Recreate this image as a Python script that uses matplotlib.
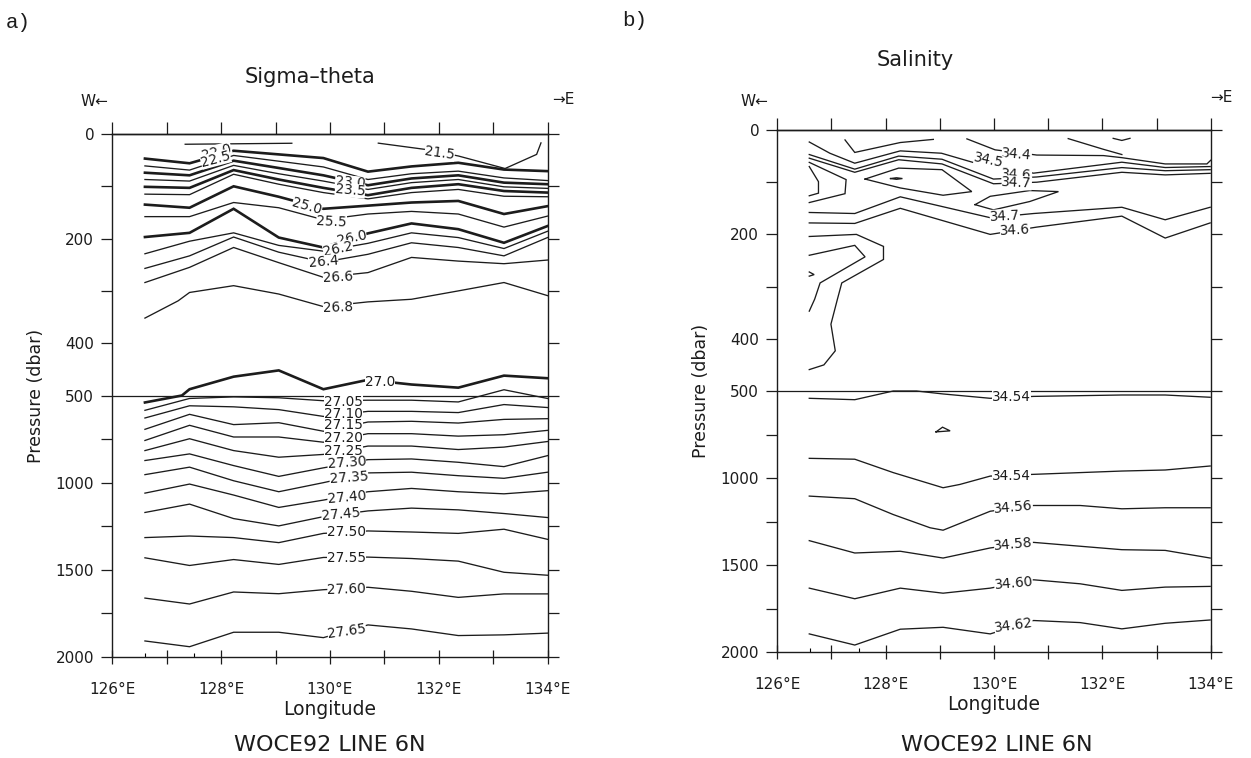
import numpy as np
import matplotlib
matplotlib.use("Agg")
import matplotlib.pyplot as plt

# ---------------- data ----------------
LON = [126.6, 127.42, 128.23, 129.06, 129.88, 130.7, 131.5, 132.36, 133.2, 134.0]
XTICKS = [126, 127, 128, 129, 130, 131, 132, 133, 134]
XTICKLABELS = ["126°E", "", "128°E", "", "130°E", "", "132°E", "", "134°E"]
STATION_MARKS = [126.6, 127.5]
YTICKS = [0, 100, 200, 300, 400, 500, 750, 1000, 1250, 1500, 1750, 2000]
YTICKLABELS = ["0", "", "200", "", "400", "500", "", "1000", "", "1500", "", "2000"]

# Sigma-theta (pressure in dbar at each station longitude)
SIG_215_LON = [130.89, 131.79, 132.36, 133.22, 133.80, 133.88]
SIG_215 = [17.5, 30, 42, 66, 39, 17]
SIG_TOP_LON = [127.34, 129.30]
SIG_TOP = [19.6, 17.7]
SIG_220 = [47, 56, 32, 39, 46, 72, 62, 55, 68, 71]
SIG_225 = [61, 69, 41, 52, 63, 87, 76, 71, 84, 89]
SIG_230 = [74, 79, 51, 65, 79, 98, 85, 79, 93, 96]
SIG_235 = [87, 90, 60, 76, 90, 106, 93, 87, 101, 104]
SIG_240 = [101, 103, 69, 87, 103, 117, 103, 96, 109, 112]
SIG_245 = [115, 116, 77, 96, 112, 124, 112, 106, 119, 120]
SIG_250 = [135, 141, 100, 120, 143, 137, 131, 128, 153, 138]
SIG_255 = [158, 158, 131, 141, 164, 153, 148, 153, 178, 157]
SIG_260 = [197, 189, 143, 198, 217, 190, 171, 182, 208, 176]
SIG_262 = [229, 205, 189, 213, 224, 209, 189, 198, 219, 186]
SIG_264 = [257, 233, 197, 226, 245, 230, 208, 217, 233, 198]
SIG_266 = [284, 255, 217, 246, 274, 265, 236, 243, 248, 241]
SIG_268_LON = [126.6, 127.21, 127.42, 128.23, 129.06, 129.88, 130.7, 131.5, 132.36, 133.2, 134.0]
SIG_268 = [352, 319, 303, 290, 306, 330, 321, 316, 300, 284, 309]
SIG_270_LON = [126.6, 127.28, 127.42, 128.23, 129.06, 129.88, 130.7, 131.5, 132.36, 133.2, 134.0]
SIG_270 = [540, 500, 488, 464, 452, 488, 470, 479, 485, 462, 467]
SIG_2705 = [585, 517, 508, 513, 530, 527, 527, 537, 489, 517]
SIG_2710 = [629, 559, 565, 581, 620, 591, 591, 598, 552, 569]
SIG_2715 = [694, 608, 667, 656, 705, 652, 648, 658, 637, 633]
SIG_2720 = [758, 671, 738, 738, 768, 719, 719, 733, 725, 700]
SIG_2725 = [816, 748, 816, 854, 838, 790, 790, 810, 796, 764]
SIG_2730 = [873, 835, 902, 964, 915, 868, 864, 883, 908, 845]
SIG_2735 = [954, 911, 989, 1052, 1000, 944, 940, 960, 975, 940]
SIG_2740 = [1060, 1008, 1071, 1142, 1100, 1052, 1033, 1052, 1064, 1046]
SIG_2745 = [1171, 1123, 1206, 1248, 1195, 1162, 1146, 1156, 1177, 1200]
SIG_2750 = [1315, 1306, 1315, 1344, 1291, 1277, 1283, 1291, 1267, 1325]
SIG_2755 = [1431, 1475, 1441, 1469, 1429, 1427, 1435, 1450, 1514, 1531]
SIG_2760 = [1662, 1696, 1627, 1637, 1614, 1600, 1623, 1658, 1638, 1638]
SIG_2765 = [1908, 1941, 1858, 1858, 1889, 1816, 1839, 1877, 1873, 1863]

SIG_LABELS = ["21.5", "22.0", "22.5", "23.0", "23.5", "25.0", "25.5", "26.0", "26.2",
              "26.4", "26.6", "26.8", "27.0", "27.05", "27.10", "27.15", "27.20",
              "27.25", "27.30", "27.35", "27.40", "27.45", "27.50", "27.55",
              "27.60", "27.65"]
SIG_LABEL_LON = [132.02, 127.92, 127.90, 130.37, 130.37, 129.58, 130.03, 130.40, 130.15,
                 129.88, 130.15, 130.15, 130.92, 130.25, 130.25, 130.25, 130.25,
                 130.25, 130.31, 130.35, 130.31, 130.20, 130.31, 130.31, 130.31, 130.31]
SIG_LABEL_P = [36, 34, 48, 93, 108, 139, 167, 198, 220, 245, 274, 331, 475, 536, 604,
               671, 744, 816, 887, 973, 1085, 1181, 1281, 1431, 1610, 1850]
SIG_LABEL_ROT = [-8, 15, 15, -5, -5, -16, -3, 12, 12, 5, 3, 2, 0, 0, 0, 0, 0, 0, 4,
                 4, 5, 5, 0, 0, 2, 8]

# Salinity
SAL_344_LON = [129.50, 130.02, 130.79, 132.02, 132.36, 133.16, 133.93, 134.0]
SAL_344 = [17, 38, 48, 49, 53, 65, 65, 58]
SAL_TOPR_LON = [131.37, 132.02, 132.36]
SAL_TOPR = [16.5, 37, 47]
SAL_V_LON = [132.2, 132.36, 132.51]
SAL_V = [16, 20, 16]
SAL_TOPL_LON = [127.25, 127.43, 128.27, 128.88]
SAL_TOPL = [19, 43, 24, 18]
SAL_345_LON = [126.59, 126.97, 127.43, 128.27, 129.03, 129.62, 130.73, 132.36, 133.16, 133.99]
SAL_345 = [23, 44.5, 63.6, 40, 44.5, 62.3, 82.7, 61.7, 71.9, 70.0]
SAL_346_LON = [126.59, 127.43, 128.24, 129.04, 129.99, 130.79, 132.36, 133.16, 133.99]
SAL_346 = [47, 75, 50, 56, 94, 90, 72, 78, 76]
SAL_347_LON = [126.59, 127.43, 128.24, 129.04, 129.99, 130.79, 132.36, 133.16, 133.99]
SAL_347 = [54, 81, 57, 65, 103, 100, 81, 86, 83]
SAL_U_LON = [126.59, 127.27, 127.25, 126.59]
SAL_U = [62, 95, 122, 139]
SAL_BR_LON = [126.59, 126.76, 126.76, 126.59]
SAL_BR = [70, 99, 121, 126]
SAL_LENS1_LON = [127.62, 128.24, 129.04, 129.59, 129.06, 128.27, 127.62]
SAL_LENS1 = [94, 73, 76, 118, 125, 111, 94]
SAL_DASH_LON = [128.09, 128.20, 128.31, 128.20, 128.09]
SAL_DASH = [93, 91.5, 93, 94.5, 93]
SAL_LENS2_LON = [129.65, 129.93, 130.66, 131.19, 130.66, 129.99, 129.65]
SAL_LENS2 = [143, 127, 116, 118, 137, 153, 143]
SAL_347B_LON = [126.59, 127.43, 128.27, 129.93, 130.73, 132.36, 133.16, 133.99]
SAL_347B = [158, 160, 128, 168, 160, 148, 172, 148]
SAL_346B_LON = [126.59, 127.43, 128.27, 129.93, 130.79, 132.36, 133.16, 133.99]
SAL_346B = [178, 179, 150, 200, 186, 165, 207, 178]
SAL_IN_LON = [126.59, 127.43, 127.62, 126.79, 126.69, 126.59]
SAL_IN = [240, 221, 243, 293, 324, 347]
SAL_ARR_LON = [126.59, 126.68, 126.59]
SAL_ARR = [272, 277, 280]
SAL_OUT_LON = [126.59, 127.46, 127.96, 127.96, 127.19, 127.11, 126.99, 127.07, 126.86, 126.59]
SAL_OUT = [204, 200, 223, 248, 293, 324, 372, 423, 450, 459]
SAL_3454A_LON = [126.59, 127.43, 128.14, 128.57, 129.06, 129.93, 130.73, 132.36, 133.16, 133.99]
SAL_3454A = [542, 550, 500, 500, 517, 542, 531, 523, 523, 536]
SAL_TRI_LON = [128.93, 129.05, 129.19, 128.93]
SAL_TRI = [735, 708, 729, 735]
SAL_3454B_LON = [126.59, 127.43, 128.14, 129.06, 129.37, 129.93, 130.73, 132.36, 133.16, 133.99]
SAL_3454B = [887, 892, 969, 1056, 1037, 989, 979, 960, 954, 931]
SAL_3456_LON = [126.59, 127.43, 128.14, 128.82, 129.06, 129.93, 130.73, 131.59, 132.36, 133.16, 133.99]
SAL_3456 = [1104, 1119, 1210, 1286, 1300, 1191, 1158, 1158, 1177, 1171, 1171]
SAL_3458_LON = [126.59, 127.43, 128.27, 129.06, 129.93, 130.73, 132.36, 133.16, 133.99]
SAL_3458 = [1360, 1431, 1421, 1460, 1402, 1370, 1412, 1416, 1460]
SAL_3460_LON = [126.59, 127.43, 128.27, 129.06, 129.93, 130.73, 131.59, 132.36, 133.16, 133.99]
SAL_3460 = [1633, 1694, 1633, 1662, 1633, 1585, 1608, 1646, 1627, 1623]
SAL_3462_LON = [126.59, 127.43, 128.27, 129.06, 129.93, 130.73, 131.59, 132.36, 133.16, 133.99]
SAL_3462 = [1896, 1960, 1869, 1858, 1896, 1819, 1831, 1867, 1835, 1816]

SAL_LABELS = ["34.4", "34.5", "34.6", "34.7", "34.7", "34.6", "34.54", "34.54",
              "34.56", "34.58", "34.60", "34.62"]
SAL_LABEL_LON = [130.42, 129.91, 130.42, 130.42, 130.20, 130.39, 130.33, 130.33,
                 130.36, 130.36, 130.36, 130.36]
SAL_LABEL_P = [46, 58, 86, 101, 165, 192, 536, 989, 1171, 1383, 1604, 1844]
SAL_LABEL_ROT = [-5, -12, -3, -3, 3, 3, 0, 0, 5, 5, 5, 8]

# ---------------- helpers ----------------
INK = "#1c1c1c"


def fwd(p):
    p = np.asarray(p, dtype=float)
    return np.where(p <= 500, p, 500 + (p - 500) / 3.0)


def inv(t):
    t = np.asarray(t, dtype=float)
    return np.where(t <= 500, t, 500 + (t - 500) * 3.0)


def setup(ax):
    ax.set_yscale("function", functions=(fwd, inv))
    ax.set_xlim(126, 134)
    ax.set_ylim(2000, 0)
    ax.set_yticks(YTICKS)
    ax.set_yticklabels(YTICKLABELS)
    ax.set_xticks(XTICKS)
    ax.set_xticklabels(XTICKLABELS)
    ax.set_xticks(STATION_MARKS, minor=True)
    ax.tick_params(axis="y", which="major", direction="out", length=8, width=0.9,
                   left=True, right=True, labelsize=11, pad=5, colors=INK)
    ax.tick_params(axis="y", which="minor", left=False, right=False)
    ax.tick_params(axis="x", which="major", direction="inout", length=10, width=0.9,
                   bottom=True, top=False, labelsize=11, pad=13, colors=INK)
    ax.tick_params(axis="x", which="minor", direction="in", length=3, width=0.8,
                   bottom=True, top=False)
    for s in ax.spines.values():
        s.set_linewidth(1.0)
        s.set_color(INK)
    sec = ax.secondary_xaxis("top")
    sec.set_xticks(XTICKS)
    sec.set_xticklabels([])
    sec.tick_params(direction="out", length=9, width=0.9, colors=INK)
    sec.spines["top"].set_linewidth(1.0)
    ax.axhline(500, color=INK, lw=0.9, zorder=2)
    ax.set_xlabel("Longitude", fontsize=13.5, color=INK, labelpad=2)
    ax.set_ylabel("Pressure (dbar)", fontsize=12.5, color=INK, labelpad=8)


def line(ax, lon, p, bold=False):
    ax.plot(lon, p, color=INK, lw=1.9 if bold else 0.95, zorder=3,
            solid_joinstyle="miter")


def labels(ax, lons, ps, texts, rots):
    for lo, p, t, r in zip(lons, ps, texts, rots):
        ax.text(lo, p, t, rotation=r, ha="center", va="center", fontsize=9.8,
                color=INK, zorder=5,
                bbox=dict(boxstyle="square,pad=0.0", fc="white", ec="none"))


# ---------------- figure ----------------
fig = plt.figure(figsize=(12.51, 7.58), dpi=100)
W, H = 1251.0, 758.0
axL = fig.add_axes([112.3 / W, 1 - 657 / H, 435.2 / W, 523 / H])
axR = fig.add_axes([777.3 / W, 1 - 652 / H, 433.4 / W, 522 / H])
setup(axL)
setup(axR)

# Sigma-theta panel
line(axL, SIG_215_LON, SIG_215)
line(axL, SIG_TOP_LON, SIG_TOP)
for arr, bold in [(SIG_220, True), (SIG_225, False), (SIG_230, True), (SIG_235, False),
                  (SIG_240, True), (SIG_245, False), (SIG_250, True), (SIG_255, False),
                  (SIG_260, True), (SIG_262, False), (SIG_264, False), (SIG_266, False)]:
    line(axL, LON, arr, bold)
line(axL, SIG_268_LON, SIG_268)
line(axL, SIG_270_LON, SIG_270, True)
for arr in [SIG_2705, SIG_2710, SIG_2715, SIG_2720, SIG_2725, SIG_2730, SIG_2735,
            SIG_2740, SIG_2745, SIG_2750, SIG_2755, SIG_2760, SIG_2765]:
    line(axL, LON, arr)
labels(axL, SIG_LABEL_LON, SIG_LABEL_P, SIG_LABELS, SIG_LABEL_ROT)

# Salinity panel
for lo, arr in [(SAL_344_LON, SAL_344), (SAL_TOPR_LON, SAL_TOPR), (SAL_V_LON, SAL_V),
                (SAL_TOPL_LON, SAL_TOPL), (SAL_345_LON, SAL_345), (SAL_346_LON, SAL_346),
                (SAL_347_LON, SAL_347), (SAL_U_LON, SAL_U), (SAL_BR_LON, SAL_BR),
                (SAL_LENS1_LON, SAL_LENS1), (SAL_DASH_LON, SAL_DASH),
                (SAL_LENS2_LON, SAL_LENS2), (SAL_347B_LON, SAL_347B),
                (SAL_346B_LON, SAL_346B), (SAL_IN_LON, SAL_IN), (SAL_ARR_LON, SAL_ARR),
                (SAL_OUT_LON, SAL_OUT), (SAL_3454A_LON, SAL_3454A), (SAL_TRI_LON, SAL_TRI),
                (SAL_3454B_LON, SAL_3454B), (SAL_3456_LON, SAL_3456),
                (SAL_3458_LON, SAL_3458), (SAL_3460_LON, SAL_3460),
                (SAL_3462_LON, SAL_3462)]:
    line(axR, lo, arr)
labels(axR, SAL_LABEL_LON, SAL_LABEL_P, SAL_LABELS, SAL_LABEL_ROT)

# figure texts
def ftext(x, y, s, **kw):
    fig.text(x / W, 1 - y / H, s, color=INK, **kw)

ftext(6, 22, "a)", fontsize=15, family="Liberation Mono", va="center", ha="left")
ftext(622, 20, "b)", fontsize=15, family="Liberation Mono", va="center", ha="left")
ftext(310, 77, "Sigma\u2013theta", fontsize=15, ha="center", va="center")
ftext(915, 60, "Salinity", fontsize=15, ha="center", va="center")
ftext(94, 102, "W\u2190", fontsize=11, ha="center", va="center")
ftext(563, 100, "\u2192E", fontsize=11, ha="center", va="center")
ftext(754, 101, "W\u2190", fontsize=11, ha="center", va="center")
ftext(1221, 98, "\u2192E", fontsize=11, ha="center", va="center")
ftext(330, 745, "WOCE92 LINE 6N", fontsize=16, ha="center", va="center")
ftext(997, 745, "WOCE92 LINE 6N", fontsize=16, ha="center", va="center")

fig.savefig("out.png", dpi=100, facecolor="white")
